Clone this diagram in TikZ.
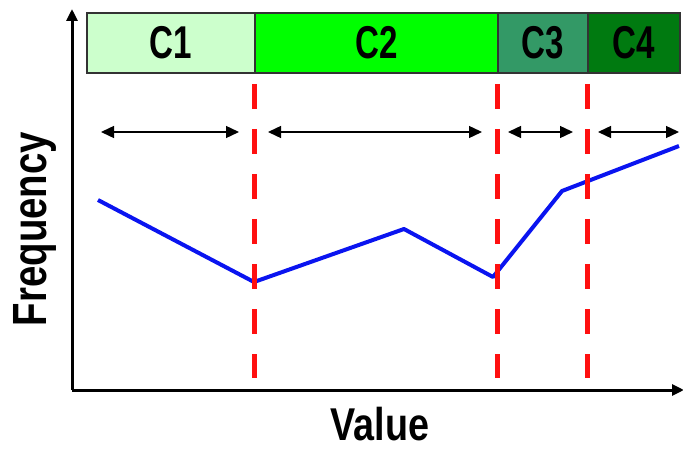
\documentclass[tikz,border=0pt]{standalone}
\usepackage{fontspec}
\setmainfont{Liberation Sans}
\usetikzlibrary{arrows.meta}
\definecolor{cone}{HTML}{CCFFCC}
\definecolor{ctwo}{HTML}{00FF00}
\definecolor{cthree}{HTML}{339966}
\definecolor{cfour}{HTML}{007A10}
\definecolor{redd}{HTML}{FF1010}
\definecolor{bluel}{HTML}{0A14F0}
\begin{document}
\begin{tikzpicture}[x=1pt,y=-1pt,
  seg/.style={draw=black!80,line width=1.8pt,minimum height=60pt,inner sep=0pt,anchor=north west},
  seglbl/.style={font=\bfseries\fontsize{46}{46}\selectfont,inner sep=0pt},
  axis/.style={line width=3pt,-{Triangle[width=11pt,length=12pt]}},
  span/.style={line width=1.4pt,{Triangle[width=12pt,length=13pt]}-{Triangle[width=12pt,length=13pt]}},
  cut/.style={draw=redd,line width=5pt,dash pattern=on 25pt off 20pt},
  curve/.style={draw=bluel,line width=4pt,line join=round}]
\useasboundingbox (0,0) rectangle (683,449);
% bar segments
\node[seg,fill=cone,minimum width=168pt] (s1) at (86,12) {};
\node[seg,fill=ctwo,minimum width=243pt] (s2) at (254,12) {};
\node[seg,fill=cthree,minimum width=90pt] (s3) at (497,12) {};
\node[seg,fill=cfour,minimum width=92pt] (s4) at (587,12) {};
\node[seglbl] (l1) at (s1.center) {\scalebox{0.72}[1]{C1}};
\node[seglbl] (l2) at (s2.center) {\scalebox{0.72}[1]{C2}};
\node[seglbl] (l3) at (s3.center) {\scalebox{0.72}[1]{C3}};
\node[seglbl] (l4) at (s4.center) {\scalebox{0.72}[1]{C4}};
% axes
\coordinate (o) at (72,390);
\coordinate (ytop) at (72,9);
\coordinate (xend) at (684,390);
\draw[axis] (o) -- (ytop);
\draw[axis] (o) -- (xend);
% span arrows
\coordinate (a1) at (101,132); \coordinate (b1) at (239,132);
\coordinate (a2) at (268,132); \coordinate (b2) at (482,132);
\coordinate (a3) at (508,132); \coordinate (b3) at (573,132);
\coordinate (a4) at (598,132); \coordinate (b4) at (679,132);
\draw[span] (a1) -- (b1);
\draw[span] (a2) -- (b2);
\draw[span] (a3) -- (b3);
\draw[span] (a4) -- (b4);
% frequency curve
\coordinate (p1) at (98,200);
\coordinate (p2) at (254,282);
\coordinate (p3) at (404,229);
\coordinate (p4) at (493,277);
\coordinate (p5) at (562,191);
\coordinate (p6) at (679,146);
\draw[curve] (p1) -- (p2) -- (p3) -- (p4) -- (p5) -- (p6);
% cut lines
\coordinate (c1t) at (254,84); \coordinate (c1b) at (254,378);
\coordinate (c2t) at (497,84); \coordinate (c2b) at (497,378);
\coordinate (c3t) at (587,84); \coordinate (c3b) at (587,378);
\draw[cut] (c1t) -- (c1b);
\draw[cut] (c2t) -- (c2b);
\draw[cut] (c3t) -- (c3b);
% axis labels
\node[font=\bfseries\fontsize{46}{46}\selectfont,inner sep=0pt] (xl) at (380,424) {\scalebox{0.82}[1]{Value}};
\node[font=\bfseries\fontsize{48}{48}\selectfont,rotate=90,inner sep=0pt] (yl) at (35,229) {\scalebox{0.8}[1]{Frequency}};
\end{tikzpicture}
\end{document}
